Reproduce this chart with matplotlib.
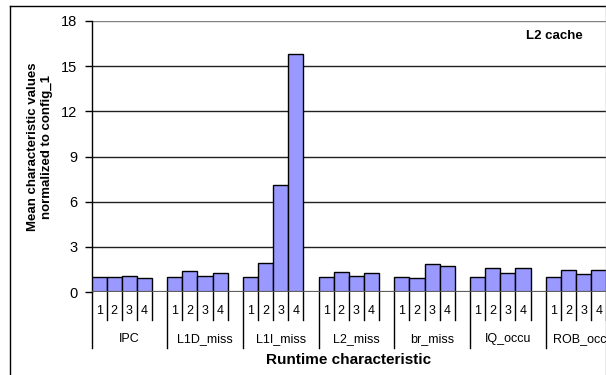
"""Runtime characteristics per configuration, normalized to config_1 (L2 cache)."""

import matplotlib

matplotlib.use("Agg")
import matplotlib.pyplot as plt
from matplotlib.lines import Line2D
from matplotlib.transforms import blended_transform_factory

plt.rcParams["font.family"] = ["Liberation Sans", "DejaVu Sans"]

characteristics = ["IPC", "L1D_miss", "L1I_miss", "L2_miss", "br_miss", "IQ_occu", "ROB_occu"]
configs = ["1", "2", "3", "4"]
ipc = [1.0, 1.0, 1.08, 0.91]
l1d_miss = [1.0, 1.37, 1.08, 1.26]
l1i_miss = [1.0, 1.95, 7.1, 15.8]
l2_miss = [1.0, 1.35, 1.08, 1.26]
br_miss = [1.0, 0.91, 1.84, 1.75]
iq_occu = [1.0, 1.57, 1.26, 1.57]
rob_occu = [1.0, 1.46, 1.17, 1.46]
series = [ipc, l1d_miss, l1i_miss, l2_miss, br_miss, iq_occu, rob_occu]
y_ticks = [0, 3, 6, 9, 12, 15, 18]

W, H = 606, 375
fig = plt.figure(figsize=(W / 100, H / 100), dpi=100)
fig.patch.set_facecolor("white")

# each group takes 5 slots: 4 bars plus one empty gap slot
slots = 5 * len(characteristics)
slot_px = 15.14
left_px, top_px, zero_px = 91.5, 21.0, 292.0
ax = fig.add_axes([left_px / W, 1 - zero_px / H,
                   slots * slot_px / W, (zero_px - top_px) / H])
ax.set_xlim(0, slots)
ax.set_ylim(0, 18)

for g, values in enumerate(series):
    xs = [5 * g + j + 0.5 for j in range(len(values))]
    ax.bar(xs, values, width=1.0, color="#9999ff", edgecolor="black",
           linewidth=1.0, zorder=3)

for t in y_ticks[1:]:
    ax.axhline(t, color="#202020" if t < 18 else "#808080", linewidth=1.0, zorder=1)
ax.axhline(0, color="#606060", linewidth=1.6, zorder=4)

for side in ("top", "right", "bottom"):
    ax.spines[side].set_visible(False)
ax.spines["left"].set_color("black")
ax.spines["left"].set_linewidth(1.0)
ax.set_yticks(y_ticks)
ax.set_yticklabels([str(t) for t in y_ticks], fontsize=10.5)
ax.tick_params(axis="y", length=5, width=1.0, color="black", pad=5)
ax.set_xticks([])

# two-level category axis drawn by hand below the zero line
trans = blended_transform_factory(ax.transData, fig.transFigure)
fy = lambda px: 1 - px / H
for g, name in enumerate(characteristics):
    x0 = 5 * g
    fig.add_artist(Line2D([x0, x0], [fy(zero_px), fy(348)], color="black",
                          linewidth=1.0, transform=trans, clip_on=False))
    for j in range(1, 5):
        fig.add_artist(Line2D([x0 + j, x0 + j], [fy(zero_px), fy(320)], color="black",
                              linewidth=1.0, transform=trans, clip_on=False))
    for j, c in enumerate(configs):
        fig.text(x0 + j + 0.5, fy(311), c, transform=trans, ha="center", va="center",
                 fontsize=9)
    fig.text(x0 + 2.5, fy(339), name, transform=trans, ha="center", va="center",
             fontsize=9)

fig.text(349 / W, fy(360), "Runtime characteristic", ha="center", va="center",
         fontsize=11, fontweight="bold")
fig.text(40 / W, fy(147), "Mean characteristic values\nnormalized to config_1",
         ha="center", va="center", rotation=90, fontsize=9.5, fontweight="bold",
         linespacing=1.25)
fig.text(554 / W, fy(36), "L2 cache", ha="center", va="center", fontsize=9.5,
         fontweight="bold")

# chart border
fig.add_artist(Line2D([9.5 / W, 9.5 / W], [fy(6), 0], color="black", linewidth=1.0))
fig.add_artist(Line2D([9.5 / W, 1], [fy(6), fy(6)], color="black", linewidth=1.0))
fig.add_artist(Line2D([605.5 / W, 605.5 / W], [fy(6), 0], color="#a0a0a0", linewidth=1.0))

fig.savefig("out.png", dpi=100)
